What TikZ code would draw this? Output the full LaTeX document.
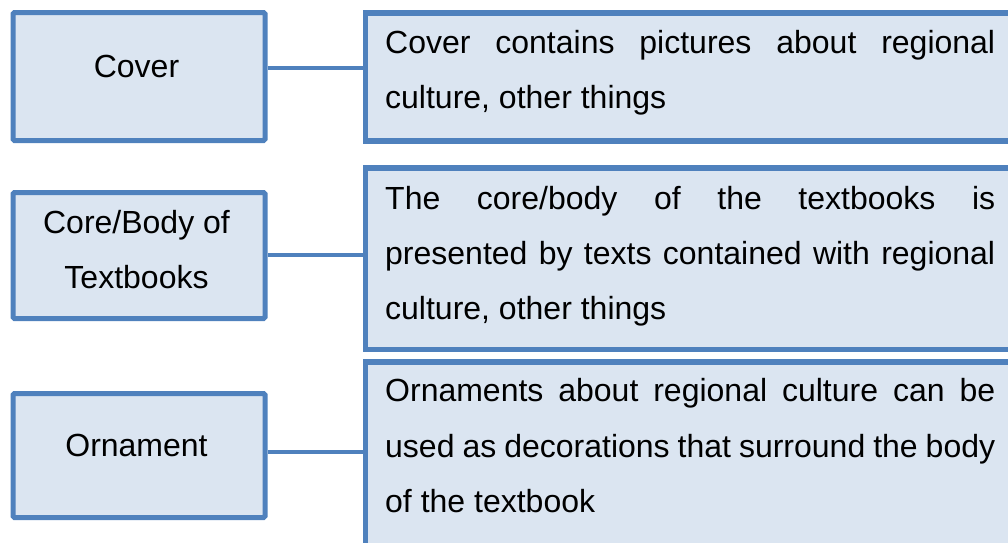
\documentclass[tikz,border=0pt]{standalone}
\usepackage{fontspec}
\setmainfont{Liberation Sans}
\definecolor{boxline}{HTML}{4F81BD}
\definecolor{boxfill}{HTML}{DBE5F1}
% no hyphenation in the description paragraphs
\hyphenpenalty=10000
\exhyphenpenalty=10000
\begin{document}
\begin{tikzpicture}[x=1pt,y=-1pt,
  lbox/.style={draw=boxline, fill=boxfill, line width=5pt, rounded corners=1.5pt,
    inner sep=0pt, anchor=north west, minimum width=252pt},
  rbox/.style={draw=boxline, fill=boxfill, line width=5.5pt, inner sep=0pt,
    anchor=north west, minimum width=760pt},
  link/.style={draw=boxline, line width=4pt},
  lab/.style={font=\fontsize{32}{55}\selectfont, align=center, inner sep=0pt, anchor=base},
  para/.style={font=\fontsize{32}{55.3}\selectfont,
    text width=610pt, align=justify, inner sep=0pt, anchor=base west}]
\useasboundingbox (0,0) rectangle (1008,542);
\clip (0,0) rectangle (1008,542);

% left column: categories
\node[lbox, minimum height=128pt] (l1) at (10.5,10) {};
\node[lbox, minimum height=126pt] (l2) at (10.5,190) {};
\node[lbox, minimum height=124pt] (l3) at (10.5,391) {};

% right column: descriptions (running past the page edge)
\node[rbox, minimum height=128pt] (r1) at (362.5,10) {};
\node[rbox, minimum height=181.5pt] (r2) at (362.5,165) {};
\node[rbox, minimum height=260pt] (r3) at (362.5,359) {};

% connectors
\draw[link] ([yshift=8.5pt]l1.east) -- ([yshift=8.5pt]l1.east -| r1.west);
\draw[link] ([yshift=1pt]l2.east) -- ([yshift=1pt]l2.east -| r2.west);
\draw[link] ([yshift=4pt]l3.east) -- ([yshift=4pt]l3.east -| r3.west);

% category labels (base = baseline of the last line)
\node[lab] (t1) at (136.5,77.7) {Cover};
\node[lab] (t2) at (136.5,288.3) {Core/Body of\\Textbooks};
\node[lab] (t3) at (136.5,456) {Ornament};

% description texts (base = baseline of the first line)
\node[para] (d1) at (385,53.3) {Cover contains pictures about regional\linebreak
  culture, other things};
\node[para] (d2) at (385,209) {The core/body of the textbooks is\linebreak
  presented by texts contained with regional\linebreak culture, other things};
\node[para] (d3) at (385,401.7) {Ornaments about regional culture can be\linebreak
  used as decorations that surround the body\linebreak of the textbook};
\end{tikzpicture}
\end{document}
